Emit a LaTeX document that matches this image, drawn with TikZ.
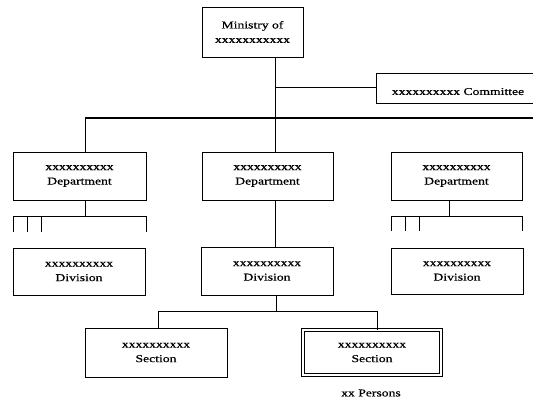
\documentclass[tikz,border=0pt]{standalone}
\usepackage{fontspec}
\setmainfont[FakeStretch=1.3,FakeBold=0.6]{Liberation Serif}
\begin{document}
\begin{tikzpicture}[x=1pt,y=-1pt,
  box/.style={draw=black, line width=0.9pt, fill=white, align=center, inner sep=0pt,
    font=\fontsize{10.5}{14.5}\selectfont, execute at begin node={\rule{0pt}{14pt}}},
  conn/.style={draw=black, line width=0.9pt},
  lbl/.style={font=\fontsize{10.5}{14.5}\selectfont, inner sep=0pt}]
\useasboundingbox (0,0) rectangle (533,401);
\clip (0,0) rectangle (533,401);
% nodes
\node[box, minimum width=101pt, minimum height=50pt] (min) at (252.5,32) {Ministry of\\xxxxxxxxxxx};
\node[box, minimum width=164pt, minimum height=30pt] (com) at (458,88) {xxxxxxxxxx Committee};
\node[box, minimum width=133pt, minimum height=48pt] (dl) at (79.5,176) {xxxxxxxxxx\\Department};
\node[box, minimum width=131pt, minimum height=48pt] (dm) at (267.5,176) {xxxxxxxxxx\\Department};
\node[box, minimum width=131pt, minimum height=48pt] (dr) at (456.5,176) {xxxxxxxxxx\\Department};
\node[box, minimum width=132pt, minimum height=47pt] (vl) at (79,271.5) {xxxxxxxxxx\\Division};
\node[box, minimum width=132pt, minimum height=48pt] (vm) at (267,271) {xxxxxxxxxx\\Division};
\node[box, minimum width=132pt, minimum height=46pt] (vr) at (457,271) {xxxxxxxxxx\\Division};
\node[box, minimum width=142pt, minimum height=49pt] (sl) at (156,352.5) {xxxxxxxxxx\\Section};
\node[box, double, double distance=2pt, minimum width=138pt, minimum height=45pt] (sr) at (372,352.5) {xxxxxxxxxx\\Section};
\node[lbl] (pers) at (371,393) {xx Persons};
% junction coordinates
\coordinate (jm) at (275,87);
\coordinate (jt) at (275,118);
\coordinate (tl) at (85,118);
\coordinate (tr) at (540,118);
\coordinate (bl) at (85,216);
\coordinate (br) at (449,216);
\coordinate (bm) at (276,311);
\coordinate (sjl) at (158,311);
\coordinate (sjr) at (377,311);
% connectors
\draw[conn] (min.south -| jm) -- (dm.north -| jm);
\draw[conn] (jm) -- (com.west |- jm);
\draw[conn, line width=1.4pt] (tl) -- (tr);
\draw[conn] (tl) -- (dl.north -| tl);
% left bracket
\draw[conn] (dl.south -| bl) -- (bl);
\draw[conn] (13,216) -- (146,216);
\foreach \xx in {13,27,41,146} \draw[conn] (\xx,216) -- (\xx,232);
% right bracket
\draw[conn] (dr.south -| br) -- (br);
\draw[conn] (391,216) -- (522,216);
\foreach \xx in {391,405,419,522} \draw[conn] (\xx,216) -- (\xx,231);
% middle column
\draw[conn] (dm.south -| jm) -- (vm.north -| jm);
\draw[conn] (vm.south -| bm) -- (bm);
\draw[conn] (sjl) -- (sjr);
\draw[conn] (sjl) -- (sl.north -| sjl);
\draw[conn] (sjr) -- (sr.north -| sjr);
\end{tikzpicture}
\end{document}
